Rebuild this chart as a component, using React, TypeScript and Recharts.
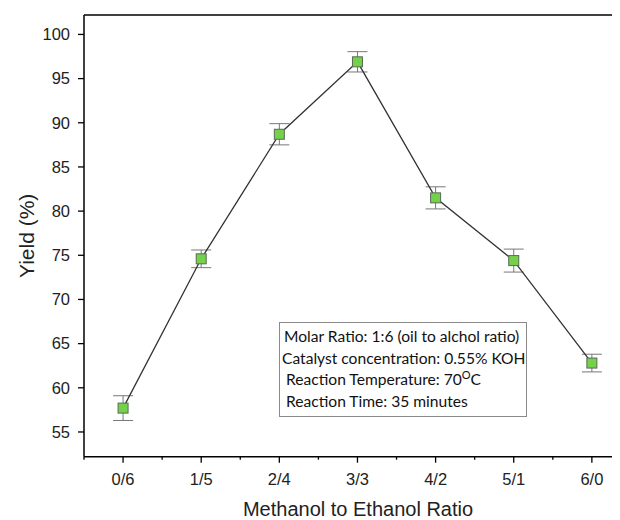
import { LineChart, Line, XAxis, YAxis, ErrorBar, ReferenceLine, Label } from "recharts";

const ratios = ["0/6", "1/5", "2/4", "3/3", "4/2", "5/1", "6/0"];
const yieldPct = [57.7, 74.6, 88.7, 96.9, 81.5, 74.4, 62.8];
const yieldErr = [1.4, 1.0, 1.2, 1.15, 1.25, 1.3, 1.0];

const yTicks = [55, 57.5, 60, 62.5, 65, 67.5, 70, 72.5, 75, 77.5, 80, 82.5, 85, 87.5, 90, 92.5, 95, 97.5, 100];
const xTicks = [-0.5, 0, 0.5, 1, 1.5, 2, 2.5, 3, 3.5, 4, 4.5, 5, 5.5, 6];

const notes = [
  "Molar Ratio: 1:6 (oil to alchol ratio)",
  "Catalyst concentration: 0.55% KOH",
  "Reaction Temperature: 70",
  "Reaction Time: 35 minutes",
];

const data = ratios.map((r, i) => ({ x: i, ratio: r, y: yieldPct[i], err: yieldErr[i] }));

const TICK = 6;
const GAP_X = 11;
const GAP_Y = 8;
const AXIS_FONT = "'Liberation Sans', Arial, sans-serif";

function XTick(props: any) {
  const { x, y, payload } = props;
  const v = payload.value;
  const major = Number.isInteger(v);
  const axisY = y - TICK - GAP_X;
  return (
    <g>
      <line x1={x} x2={x} y1={axisY} y2={axisY + (major ? TICK : 3)} stroke="#000" strokeWidth={1.3} />
      {major && (
        <text x={x} y={y} dy="0.71em" textAnchor="middle" fontSize={16.5} fill="#222" fontFamily={AXIS_FONT}>
          {ratios[v]}
        </text>
      )}
    </g>
  );
}

function YTick(props: any) {
  const { x, y, payload } = props;
  const v = payload.value;
  const major = v % 5 === 0;
  const axisX = x + TICK + GAP_Y;
  return (
    <g>
      <line x1={axisX - (major ? TICK : 3)} x2={axisX} y1={y} y2={y} stroke="#000" strokeWidth={1.3} />
      {major && (
        <text x={x} y={y} dy="0.355em" textAnchor="end" fontSize={16.5} fill="#222" fontFamily={AXIS_FONT}>
          {v}
        </text>
      )}
    </g>
  );
}

function SquareDot(props: any) {
  const { cx, cy } = props;
  if (cx == null || cy == null) return null;
  return <rect x={cx - 5} y={cy - 5} width={10} height={10} fill="#74d14a" stroke="#5a6a55" strokeWidth={1} />;
}

export default function App() {
  return (
    <div style={{ position: "relative", width: 612, height: 512 }}>
      <LineChart width={612} height={512} data={data} margin={{ top: 7, right: 0, bottom: 0, left: 0 }}>
        <XAxis
          dataKey="x"
          type="number"
          domain={[-0.5, 6.36]}
          ticks={xTicks}
          allowDataOverflow
          height={63.3}
          tickSize={TICK}
          tickMargin={GAP_X}
          tickLine={false}
          tick={<XTick />}
          axisLine={{ stroke: "#000", strokeWidth: 1.5 }}
        >
          <Label
            value="Methanol to Ethanol Ratio"
            position="insideBottom"
            offset={4}
            dx={6}
            fontSize={20}
            fill="#222"
            fontFamily={AXIS_FONT}
          />
        </XAxis>
        <YAxis
          type="number"
          domain={[52.2, 102.2]}
          ticks={yTicks}
          allowDataOverflow
          width={76}
          tickSize={TICK}
          tickMargin={GAP_Y}
          tickLine={false}
          tick={<YTick />}
          axisLine={{ stroke: "#000", strokeWidth: 1.5 }}
        >
          <Label
            value="Yield (%)"
            position="center"
            angle={-90}
            dx={-19}
            fontSize={21}
            fill="#222"
            fontFamily={AXIS_FONT}
          />
        </YAxis>
        <ReferenceLine y={102.2} stroke="#000" strokeWidth={1.5} ifOverflow="visible" />
        <Line
          dataKey="y"
          stroke="#333"
          strokeWidth={1.3}
          dot={<SquareDot />}
          activeDot={false}
          isAnimationActive={false}
        >
          <ErrorBar dataKey="err" width={10} stroke="#777" strokeWidth={1} direction="y" />
        </Line>
      </LineChart>
      <div
        style={{
          position: "absolute",
          left: 271,
          top: 314,
          width: 246,
          height: 90,
          border: "1px solid #8a8a8a",
          background: "#fff",
          fontFamily: "Lato, 'Open Sans', sans-serif",
          fontSize: 15.6,
          color: "#111",
          lineHeight: "21.7px",
          paddingTop: 3,
          boxSizing: "content-box",
        }}
      >
        {notes.map((n, i) => (
          <div key={i} style={{ paddingLeft: [4, 2, 6, 6][i], whiteSpace: "nowrap" }}>
            {n}
            {i === 2 && (
              <>
                <sup style={{ fontSize: 11, lineHeight: 0 }}>O</sup>C
              </>
            )}
          </div>
        ))}
      </div>
    </div>
  );
}
